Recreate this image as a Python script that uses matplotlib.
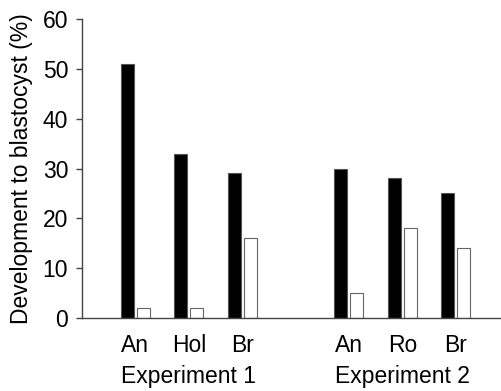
import numpy as np
import matplotlib
matplotlib.use("Agg")
import matplotlib.pyplot as plt

plt.rcParams['font.family'] = ['Liberation Sans', 'DejaVu Sans']

# Data
strains = ["An", "Hol", "Br", "An", "Ro", "Br"]
experiments = ["Experiment 1", "Experiment 2"]
blackVals = [51, 33, 29, 30, 28, 25]
whiteVals = [2, 2, 16, 5, 18, 14]

positions = np.array([1, 2, 3, 5, 6, 7])
barWidth = 0.245
offset = 0.15
fs = 16.5

fig = plt.figure(figsize=(5.01, 3.91), dpi=100)
ax = fig.add_axes([82/501, 73/391, 419/501, 299/391])

ax.bar(positions - offset, blackVals, width=barWidth, color="black",
       edgecolor="#555555", linewidth=0.8)
ax.bar(positions + offset, whiteVals, width=barWidth, color="white",
       edgecolor="#666666", linewidth=0.8)

ax.set_xlim(0, 7.85)
ax.set_ylim(0, 60)
ax.set_yticks(range(0, 61, 10))
ax.tick_params(axis='y', length=4.5, width=1, color="#444444", labelsize=fs, pad=5.5)
ax.set_xticks(positions)
ax.set_xticklabels(strains)
ax.tick_params(axis='x', length=0, labelsize=fs, pad=11.5)

for sp in ["top", "right"]:
    ax.spines[sp].set_visible(False)
for sp in ["left", "bottom"]:
    ax.spines[sp].set_color("#444444")
    ax.spines[sp].set_linewidth(1)

ax.set_ylabel("Development to blastocyst (%)", fontsize=fs, labelpad=7)

# Experiment group labels under the strain labels
for expName, center in zip(experiments, [2, 6]):
    ax.annotate(expName, xy=(center, 0), xycoords=('data', 'axes fraction'),
                xytext=(0, -46.8), textcoords='offset points',
                ha='center', va='baseline', fontsize=fs)

fig.savefig("out.png", dpi=100)
